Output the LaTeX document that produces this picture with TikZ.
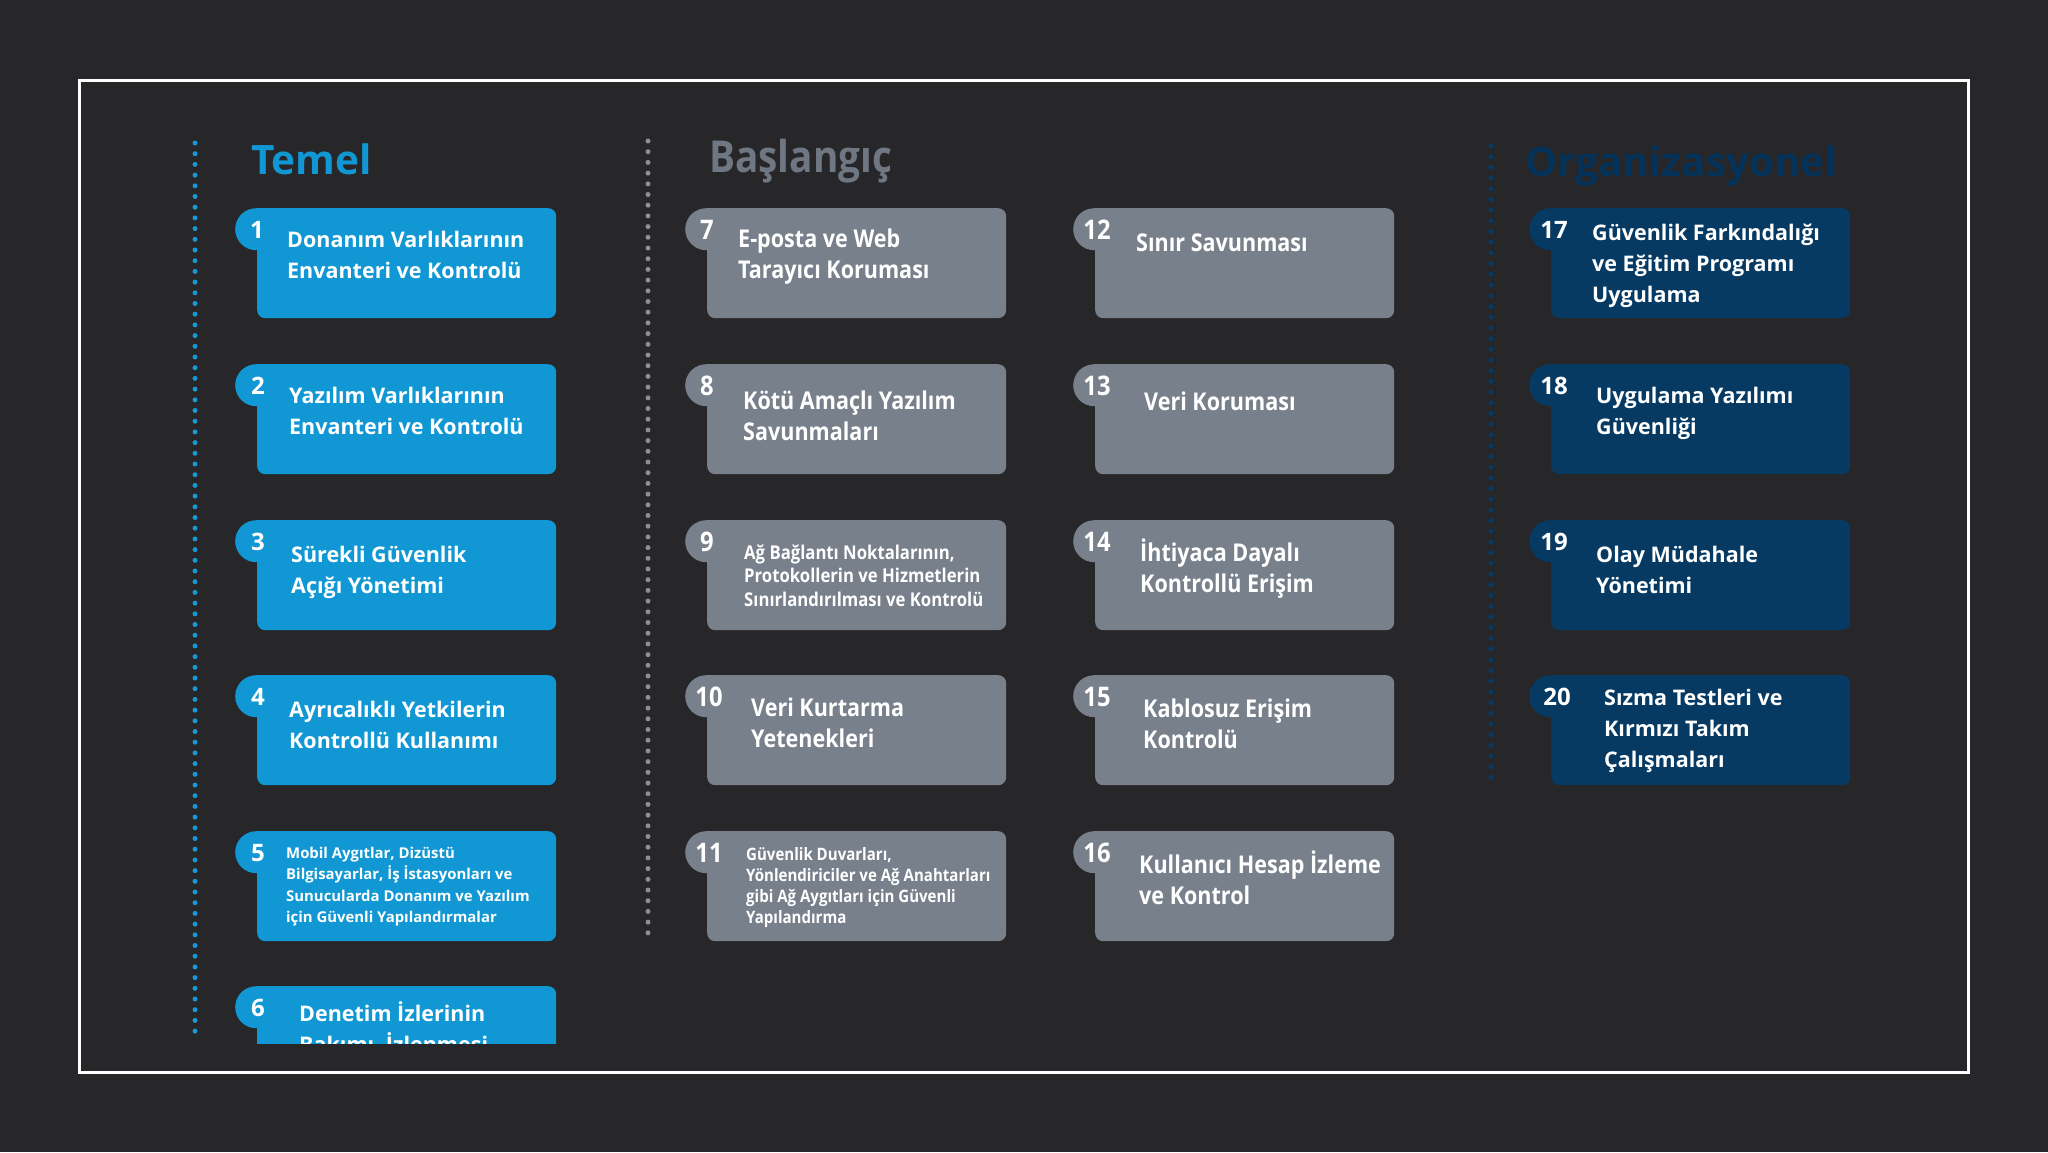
\documentclass[tikz,border=0pt]{standalone}
\usepackage{fontspec}
\setmainfont{Open Sans}
\newfontfamily\condfont{Open Sans}[FakeStretch=0.88]
\definecolor{bg}{HTML}{272628}
\definecolor{cblue}{HTML}{1198D4}
\definecolor{cgray}{HTML}{78808C}
\definecolor{cdark}{HTML}{063A63}
\definecolor{tgray}{HTML}{6F7782}
\definecolor{tdark}{HTML}{043258}
\definecolor{dgray}{HTML}{8A9099}
\definecolor{ddark}{HTML}{053A66}
\definecolor{dblue}{HTML}{1898D6}
\begin{document}
\begin{tikzpicture}[x=1pt,y=-1pt,
  box/.style={rectangle, rounded corners=8pt, minimum width=299pt, minimum height=110pt, inner sep=0pt, anchor=north west, draw=none},
  tab/.style={rectangle, rounded corners=21pt, minimum width=52pt, minimum height=42pt, inner sep=0pt, anchor=north west, draw=none},
  num/.style={text=white, inner sep=0pt, anchor=center, font=\bfseries\fontsize{24}{24}\selectfont},
  cnum/.style={num, font=\condfont\bfseries\fontsize{27}{27}\selectfont},
  txt/.style={anchor=base west, align=left, inner sep=0pt, text=white, font=\bfseries\fontsize{21.5}{31}\selectfont},
  ctxt/.style={txt, font=\condfont\bfseries\fontsize{24.5}{31}\selectfont},
  title/.style={anchor=base west, inner sep=0pt, font=\bfseries\fontsize{40.5}{42}\selectfont},
  dotline/.style={line width=5pt, line cap=round, dash pattern=on 0pt off 10.7pt}
]
\fill[bg] (0,0) rectangle (2048,1152);
\draw[white, line width=3pt] (79,80) rectangle (1968,1072);

% dotted separators
\draw[dotline, dblue] (195,143) -- (195,1035);
\draw[dotline, dgray] (648,141) -- (648,938);
\draw[dotline, ddark] (1491,146) -- (1491,784);

% titles
\node[title, text=cblue] (tTemel) at (251,174) {Temel};
\node[title, text=tgray, font=\condfont\bfseries\fontsize{44}{44}\selectfont] (tBas) at (709,172) {Başlangıç};
\node[title, text=tdark] (tOrg) at (1525,176) {Organizasyonel};

% box with tab
\newcommand{\itembox}[4]{% name, L, T, color
  \node[box, fill=#4] (b#1) at (#2,#3) {};
  \node[tab, fill=#4] (t#1) at (#2-22,#3) {};
}

% column 1 (text nodes anchored at the baseline of their last line)
\itembox{1}{257}{208}{cblue}
\node[num] (n1) at (257,230) {1};
\node[txt] (x1) at (287,278) {Donanım Varlıklarının\\Envanteri ve Kontrolü};
\itembox{2}{257}{364}{cblue}
\node[num] (n2) at (258,386) {2};
\node[txt] (x2) at (289,434) {Yazılım Varlıklarının\\Envanteri ve Kontrolü};
\itembox{3}{257}{520}{cblue}
\node[num] (n3) at (258,542) {3};
\node[txt] (x3) at (291,593) {Sürekli Güvenlik\\Açığı Yönetimi};
\itembox{4}{257}{675}{cblue}
\node[num] (n4) at (258,697) {4};
\node[txt] (x4) at (289,748) {Ayrıcalıklı Yetkilerin\\Kontrollü Kullanımı};
\itembox{5}{257}{831}{cblue}
\node[num] (n5) at (258,853) {5};
\node[txt, font=\bfseries\fontsize{14.9}{21.5}\selectfont] (x5) at (286,922.5) {Mobil Aygıtlar, Dizüstü\\Bilgisayarlar, İş İstasyonları ve\\Sunucularda Donanım ve Yazılım\\için Güvenli Yapılandırmalar};
\begin{scope}
\clip (0,0) rectangle (2048,1043);
\itembox{6}{257}{986}{cblue}
\node[num] (n6) at (258,1008) {6};
\node[txt, font=\bfseries\fontsize{21.5}{31}\selectfont] (x6) at (299,1052) {Denetim İzlerinin\\Bakımı, İzlenmesi};
\end{scope}

% column 2
\itembox{7}{707}{208}{cgray}
\node[cnum] (n7) at (707,230) {7};
\node[ctxt] (x7) at (738,278) {E-posta ve Web\\Tarayıcı Koruması};
\itembox{8}{707}{364}{cgray}
\node[cnum] (n8) at (707,386) {8};
\node[ctxt] (x8) at (743,440) {Kötü Amaçlı Yazılım\\Savunmaları};
\itembox{9}{707}{520}{cgray}
\node[cnum] (n9) at (707,542) {9};
\node[ctxt, font=\condfont\bfseries\fontsize{19}{23.5}\selectfont] (x9) at (744,606) {Ağ Bağlantı Noktalarının,\\Protokollerin ve Hizmetlerin\\Sınırlandırılması ve Kontrolü};
\itembox{10}{707}{675}{cgray}
\node[cnum] (n10) at (709,697) {10};
\node[ctxt] (x10) at (751,747) {Veri Kurtarma\\Yetenekleri};
\itembox{11}{707}{831}{cgray}
\node[cnum] (n11) at (709,853) {11};
\node[ctxt, font=\condfont\bfseries\fontsize{17.1}{21}\selectfont] (x11) at (746,923) {Güvenlik Duvarları,\\Yönlendiriciler ve Ağ Anahtarları\\gibi Ağ Aygıtları için Güvenli\\Yapılandırma};

% column 3
\itembox{12}{1095}{208}{cgray}
\node[cnum] (n12) at (1097,230) {12};
\node[ctxt] (x12) at (1136,251) {Sınır Savunması};
\itembox{13}{1095}{364}{cgray}
\node[cnum] (n13) at (1097,386) {13};
\node[ctxt] (x13) at (1144,410) {Veri Koruması};
\itembox{14}{1095}{520}{cgray}
\node[cnum] (n14) at (1097,542) {14};
\node[ctxt] (x14) at (1140,592) {İhtiyaca Dayalı\\Kontrollü Erişim};
\itembox{15}{1095}{675}{cgray}
\node[cnum] (n15) at (1097,697) {15};
\node[ctxt] (x15) at (1143,748) {Kablosuz Erişim\\Kontrolü};
\itembox{16}{1095}{831}{cgray}
\node[cnum] (n16) at (1097,853) {16};
\node[ctxt] (x16) at (1139,904) {Kullanıcı Hesap İzleme\\ve Kontrol};

% column 4
\itembox{17}{1551}{208}{cdark}
\node[num] (n17) at (1554,230) {17};
\node[txt] (x17) at (1592,302) {Güvenlik Farkındalığı\\ve Eğitim Programı\\Uygulama};
\itembox{18}{1551}{364}{cdark}
\node[num] (n18) at (1554,386) {18};
\node[txt] (x18) at (1596,434) {Uygulama Yazılımı\\Güvenliği};
\itembox{19}{1551}{520}{cdark}
\node[num] (n19) at (1554,542) {19};
\node[txt] (x19) at (1596,593) {Olay Müdahale\\Yönetimi};
\itembox{20}{1551}{675}{cdark}
\node[num] (n20) at (1557,697) {20};
\node[txt] (x20) at (1604,767) {Sızma Testleri ve\\Kırmızı Takım\\Çalışmaları};
\end{tikzpicture}
\end{document}
